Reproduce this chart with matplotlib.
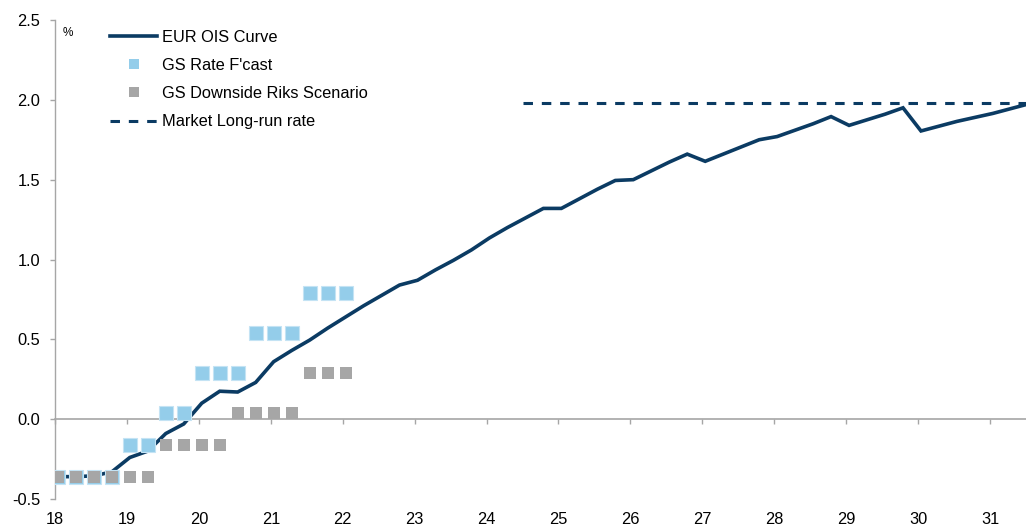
import matplotlib
matplotlib.use('Agg')
import matplotlib.pyplot as plt

plt.rcParams['font.family'] = ['Liberation Sans', 'DejaVu Sans']

# ---- data ----
ois_x = [18.0, 18.04, 18.29, 18.54, 18.79, 19.04, 19.29, 19.54, 19.79, 20.04,
         20.29, 20.54, 20.79, 21.04, 21.29, 21.54, 21.79, 22.04, 22.29, 22.54,
         22.79, 23.04, 23.29, 23.54, 23.79, 24.04, 24.29, 24.54, 24.79, 25.04,
         25.29, 25.54, 25.79, 26.04, 26.29, 26.54, 26.79, 27.04, 27.29, 27.54,
         27.79, 28.04, 28.29, 28.54, 28.79, 29.04, 29.29, 29.54, 29.79, 30.04,
         30.29, 30.54, 30.79, 31.04, 31.29, 31.54]
ois_y = [-0.36, -0.36, -0.36, -0.355, -0.33, -0.24, -0.20, -0.09, -0.03, 0.10,
         0.175, 0.17, 0.23, 0.36, 0.43, 0.495, 0.57, 0.64, 0.71, 0.775,
         0.84, 0.87, 0.935, 0.995, 1.06, 1.135, 1.20, 1.26, 1.32, 1.32,
         1.38, 1.44, 1.495, 1.50, 1.555, 1.61, 1.66, 1.615, 1.66, 1.705,
         1.75, 1.77, 1.81, 1.85, 1.895, 1.84, 1.875, 1.91, 1.95, 1.805,
         1.835, 1.865, 1.89, 1.915, 1.945, 1.975]

fc_x = [18.04, 18.29, 18.54, 18.79, 19.04, 19.29, 19.54, 19.79, 20.04, 20.29,
        20.54, 20.79, 21.04, 21.29, 21.54, 21.79, 22.04]
fc_y = [-0.36, -0.36, -0.36, -0.36, -0.16, -0.16, 0.04, 0.04, 0.29, 0.29,
        0.29, 0.54, 0.54, 0.54, 0.79, 0.79, 0.79]

ds_x = [18.04, 18.29, 18.54, 18.79, 19.04, 19.29, 19.54, 19.79, 20.04, 20.29,
        20.54, 20.79, 21.04, 21.29, 21.54, 21.79, 22.04]
ds_y = [-0.36, -0.36, -0.36, -0.36, -0.36, -0.36, -0.16, -0.16, -0.16, -0.16,
        0.04, 0.04, 0.04, 0.04, 0.29, 0.29, 0.29]

lr_x = [24.5, 31.5]
lr_y = [1.98, 1.98]

x_ticks = list(range(18, 32))
y_ticks = [-0.5, 0.0, 0.5, 1.0, 1.5, 2.0, 2.5]
y_labels = ['-0.5', '0.0', '0.5', '1.0', '1.5', '2.0', '2.5']

labels = ['EUR OIS Curve', 'GS Rate F\'cast', 'GS Downside Riks Scenario', 'Market Long-run rate']

# ---- style ----
NAVY = '#0B3B63'
BLUE = '#94CDEA'
GREY = '#A6A6A6'
AXC = '#A6A6A6'
FS = 11.8

W, H = 1026, 525
fig = plt.figure(figsize=(W / 100, H / 100), dpi=100)
ax = fig.add_axes([55 / W, 26 / H, 1 - 55 / W, (499 - 20) / H])

xmin, xmax = 18, 31.5
ymin, ymax = -0.5, 2.5

l1, = ax.plot(ois_x, ois_y, color=NAVY, lw=2.6, solid_joinstyle='miter', zorder=3,
              label=labels[0])
l2, = ax.plot(fc_x, fc_y, ls='none', marker='s', ms=10.2, mfc=BLUE,
              mec='#C4E3F4', mew=0.8, zorder=4, label=labels[1])
l3, = ax.plot(ds_x, ds_y, ls='none', marker='s', ms=8.0, mfc=GREY, mec=GREY,
              mew=0, zorder=5, label=labels[2])
l4, = ax.plot(lr_x, lr_y, color=NAVY, lw=2.2, dashes=(3.1, 2.9), zorder=3,
              label=labels[3])

ax.set_xlim(xmin, xmax)
ax.set_ylim(ymin, ymax)

# spines
for s in ['top', 'right']:
    ax.spines[s].set_visible(False)
ax.spines['left'].set_color(AXC)
ax.spines['left'].set_linewidth(1.0)
ax.spines['bottom'].set_position(('data', 0))
ax.spines['bottom'].set_color(AXC)
ax.spines['bottom'].set_linewidth(1.2)

ax.set_yticks(y_ticks)
ax.set_yticklabels(y_labels)
ax.tick_params(axis='y', direction='out', length=3.5, width=1.0, color=AXC,
               labelsize=FS, pad=7, labelcolor='black')

ax.set_xticks(x_ticks)
ax.tick_params(axis='x', direction='out', length=3.5, width=1.0, color=AXC,
               labelbottom=False)

# x labels at bottom of the plot area
sec = ax.secondary_xaxis('bottom')
sec.set_xticks(x_ticks)
sec.set_xticklabels([str(t) for t in x_ticks])
sec.tick_params(axis='x', length=0, labelsize=FS, pad=9, labelcolor='black')
sec.spines['bottom'].set_visible(False)

# % unit label
ax.text(68 / W, 1 - 33 / H, '%', transform=fig.transFigure, fontsize=8.5,
        ha='center', va='center')

leg = ax.legend(handles=[l1, l2, l3, l4], loc='upper left',
                bbox_to_anchor=(110 / W, 1 - 30 / H), bbox_transform=fig.transFigure,
                frameon=False, fontsize=FS, handlelength=2.87, handletextpad=0.3,
                labelspacing=0.8, borderpad=0, borderaxespad=0)
hs = leg.legend_handles
hs[1].set_markersize(7.3)
hs[1].set_markeredgewidth(0)
hs[2].set_markersize(7.3)

fig.savefig('out.png', dpi=100)
